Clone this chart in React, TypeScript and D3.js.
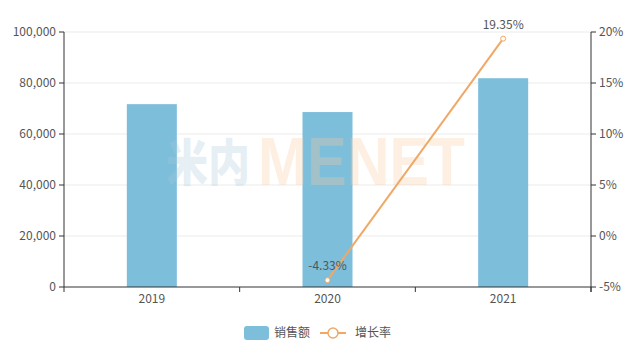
import React from "react";
import * as d3 from "d3";

const categories = ["2019", "2020", "2021"];
const sales = [71700, 68600, 81880];
const growth: (number | null)[] = [null, -4.33, 19.35];
const leftTicks = [0, 20000, 40000, 60000, 80000, 100000];
const rightTicks = [-5, 0, 5, 10, 15, 20];
const seriesNames = ["销售额", "增长率"];

const W = 640, H = 352;
const M = { left: 64, right: 591, top: 32, bottom: 287 };
const BAR = "#7dbedb";
const LINE = "#f0a866";
const TXT = "#555";
const FONT = "'Noto Sans CJK SC', 'Noto Sans', sans-serif";

export default function App() {
  const x = d3.scaleBand().domain(categories).range([M.left, M.right]);
  const yL = d3.scaleLinear().domain([0, 100000]).range([M.bottom, M.top]);
  const yR = d3.scaleLinear().domain([-5, 20]).range([M.bottom, M.top]);
  const fmt = d3.format(",");
  const barW = 50;
  const pts = categories
    .map((c, i) => ({ c, v: growth[i] }))
    .filter((d) => d.v !== null) as { c: string; v: number }[];
  const line = d3
    .line<{ c: string; v: number }>()
    .x((d) => (x(d.c) as number) + x.bandwidth() / 2)
    .y((d) => yR(d.v));
  const boundaries = [M.left, ...categories.map((c) => (x(c) as number) + x.bandwidth())];

  return (
    <svg width={W} height={H} style={{ position: "absolute", left: 0, top: 0, fontFamily: FONT }}>
      <rect width={W} height={H} fill="#fff" />
      {/* grid */}
      {leftTicks.slice(1).map((t) => (
        <line key={t} x1={M.left} x2={M.right} y1={yL(t)} y2={yL(t)} stroke="#ebebeb" strokeWidth={1} />
      ))}
      {/* bars */}
      {categories.map((c, i) => (
        <rect key={c} x={(x(c) as number) + x.bandwidth() / 2 - barW / 2} y={yL(sales[i])} width={barW} height={yL(0) - yL(sales[i])} fill={BAR} />
      ))}
      {/* watermark */}
      <g>
        <text x={166} y={181} fontSize={50} fontWeight={900} fill="#a9c8da" fillOpacity={0.3} textLength={84} lengthAdjust="spacingAndGlyphs">米内</text>
        <text x={258} y={185} fontSize={68} fontWeight={700} fill="#f7c9a0" fillOpacity={0.3} fontFamily="'Liberation Sans', Arial, sans-serif" textLength={207} lengthAdjust="spacingAndGlyphs">MENET</text>
      </g>
      {/* left axis */}
      <line x1={M.left} x2={M.left} y1={M.top} y2={M.bottom} stroke="#333" />
      {leftTicks.map((t) => (
        <g key={t}>
          <line x1={M.left - 5} x2={M.left} y1={yL(t)} y2={yL(t)} stroke="#333" />
          <text x={M.left - 8} y={yL(t)} dy="0.35em" textAnchor="end" fontSize={12} fill={TXT}>{fmt(t)}</text>
        </g>
      ))}
      {/* right axis */}
      <line x1={M.right} x2={M.right} y1={M.top} y2={M.bottom + 5} stroke="#333" />
      {rightTicks.map((t) => (
        <g key={t}>
          <line x1={M.right} x2={M.right + 5} y1={yR(t)} y2={yR(t)} stroke="#333" />
          <text x={M.right + 8} y={yR(t)} dy="0.35em" textAnchor="start" fontSize={12} fill={TXT}>{t}%</text>
        </g>
      ))}
      {/* x axis */}
      <line x1={M.left} x2={M.right} y1={M.bottom} y2={M.bottom} stroke="#333" />
      {boundaries.map((b, i) => (
        <line key={i} x1={b} x2={b} y1={M.bottom} y2={M.bottom + 5} stroke="#333" />
      ))}
      {categories.map((c) => (
        <text key={c} x={(x(c) as number) + x.bandwidth() / 2} y={M.bottom + 16} textAnchor="middle" fontSize={12} fill={TXT}>{c}</text>
      ))}
      {/* line */}
      <path d={line(pts) || ""} fill="none" stroke={LINE} strokeWidth={2} />
      {pts.map((d) => (
        <g key={d.c}>
          <circle cx={(x(d.c) as number) + x.bandwidth() / 2} cy={yR(d.v)} r={2.5} fill="#fff" stroke={LINE} strokeWidth={1} />
          <text x={(x(d.c) as number) + x.bandwidth() / 2} y={yR(d.v) - 10} textAnchor="middle" fontSize={12} fill={TXT}>{d.v.toFixed(2)}%</text>
        </g>
      ))}
      {/* legend */}
      <rect x={244} y={326} width={25} height={14} rx={3} fill={BAR} />
      <text x={274} y={333} dy="0.35em" fontSize={12} fill={TXT}>{seriesNames[0]}</text>
      <line x1={320} x2={346} y1={333} y2={333} stroke={LINE} strokeWidth={2} />
      <circle cx={333} cy={333} r={5} fill="#fff" stroke={LINE} strokeWidth={1.5} />
      <text x={355} y={333} dy="0.35em" fontSize={12} fill={TXT}>{seriesNames[1]}</text>
    </svg>
  );
}
